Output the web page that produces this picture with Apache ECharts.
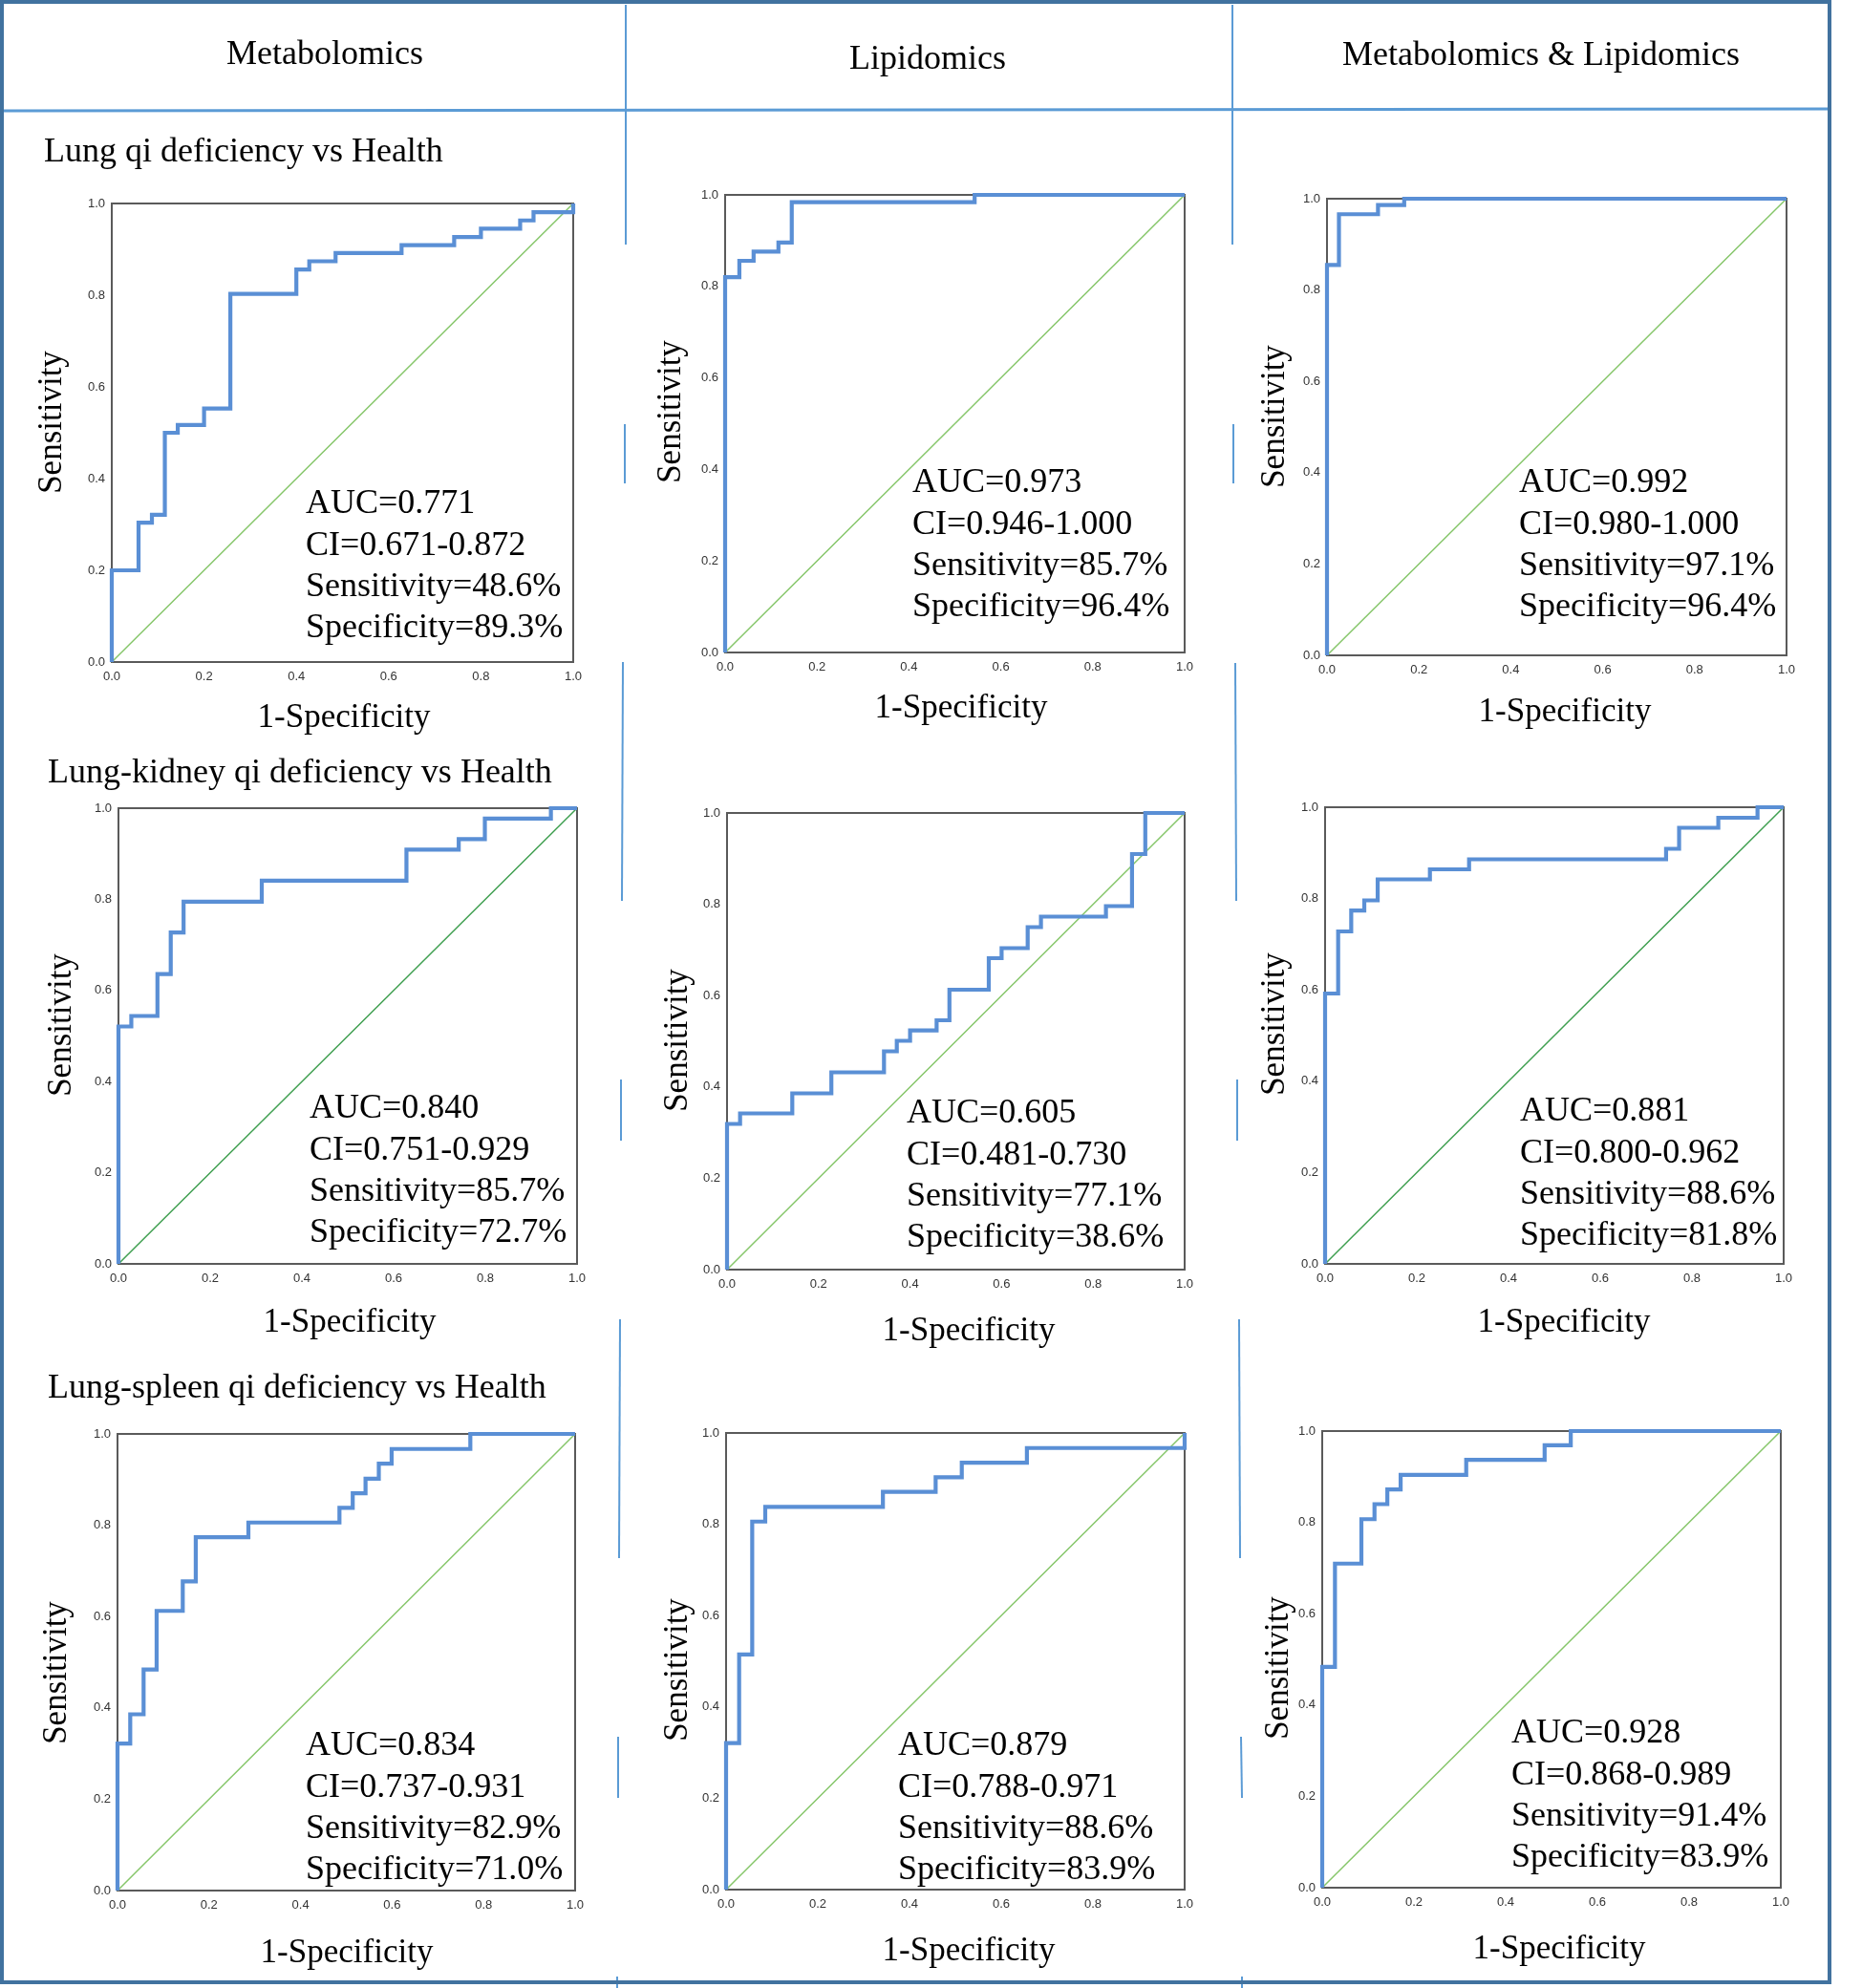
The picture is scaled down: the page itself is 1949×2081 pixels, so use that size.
<!DOCTYPE html>
<html><head><meta charset="utf-8">
<script src="https://cdn.jsdelivr.net/npm/echarts@6/dist/echarts.min.js"></script>
<style>html,body{margin:0;padding:0;background:#fff}#c{width:1949px;height:2081px}</style>
</head><body><div id="c"></div>
<script>
// ---------- data ----------
const columnHeaders = ['Metabolomics', 'Lipidomics', 'Metabolomics & Lipidomics'];
const rowTitles = ['Lung qi deficiency vs Health', 'Lung-kidney qi deficiency vs Health', 'Lung-spleen qi deficiency vs Health'];
const xAxisTitle = '1-Specificity';
const yAxisTitle = 'Sensitivity';
const tickValues = [0, 0.2, 0.4, 0.6, 0.8, 1.0];
const refLine = [0, 1];

// Row 1: Lung qi deficiency vs Health
const p1Fpr = [0, 0, 0.058, 0.087, 0.115, 0.143, 0.2, 0.257, 0.4, 0.428, 0.485, 0.628, 0.742, 0.8, 0.885, 0.914, 1.0];
const p1Tpr = [0, 0.2, 0.304, 0.321, 0.5, 0.517, 0.553, 0.803, 0.856, 0.874, 0.892, 0.909, 0.927, 0.945, 0.963, 0.981, 1.0];
const p2Fpr = [0, 0, 0.031, 0.062, 0.116, 0.145, 0.543, 1.0];
const p2Tpr = [0, 0.82, 0.856, 0.876, 0.896, 0.984, 1.0, 1.0];
const p3Fpr = [0, 0, 0.026, 0.111, 0.168, 1.0];
const p3Tpr = [0, 0.855, 0.966, 0.986, 1.0, 1.0];
// Row 2: Lung-kidney qi deficiency vs Health
const p4Fpr = [0, 0, 0.028, 0.085, 0.114, 0.142, 0.3125, 0.628, 0.742, 0.799, 0.943, 1.0];
const p4Tpr = [0, 0.521, 0.544, 0.636, 0.727, 0.795, 0.841, 0.909, 0.932, 0.977, 1.0, 1.0];
const p5Fpr = [0, 0, 0.0285, 0.1426, 0.228, 0.343, 0.371, 0.400, 0.458, 0.486, 0.572, 0.600, 0.657, 0.686, 0.828, 0.885, 0.914, 1.0];
const p5Tpr = [0, 0.319, 0.342, 0.386, 0.432, 0.478, 0.501, 0.524, 0.546, 0.613, 0.682, 0.704, 0.75, 0.773, 0.796, 0.910, 1.0, 1.0];
const p6Fpr = [0, 0, 0.0285, 0.057, 0.0855, 0.1147, 0.2286, 0.314, 0.7436, 0.772, 0.8575, 0.943, 1.0];
const p6Tpr = [0, 0.592, 0.728, 0.774, 0.796, 0.842, 0.864, 0.886, 0.909, 0.955, 0.977, 1.0, 1.0];
// Row 3: Lung-spleen qi deficiency vs Health
const p7Fpr = [0, 0, 0.0278, 0.057, 0.0855, 0.1426, 0.171, 0.286, 0.485, 0.514, 0.542, 0.571, 0.599, 0.771, 1.0];
const p7Tpr = [0, 0.322, 0.386, 0.484, 0.6125, 0.677, 0.774, 0.806, 0.838, 0.870, 0.902, 0.935, 0.967, 1.0, 1.0];
const p8Fpr = [0, 0, 0.0285, 0.057, 0.0854, 0.342, 0.457, 0.514, 0.656, 1.0];
const p8Tpr = [0, 0.321, 0.515, 0.806, 0.838, 0.871, 0.903, 0.935, 0.967, 1.0];
const p9Fpr = [0, 0, 0.0278, 0.0854, 0.114, 0.142, 0.171, 0.314, 0.485, 0.542, 1.0];
const p9Tpr = [0, 0.4836, 0.7097, 0.807, 0.840, 0.872, 0.904, 0.937, 0.969, 1.0, 1.0];

const aucValues = ['0.771', '0.973', '0.992', '0.840', '0.605', '0.881', '0.834', '0.879', '0.928'];
const ciValues = ['0.671-0.872', '0.946-1.000', '0.980-1.000', '0.751-0.929', '0.481-0.730', '0.800-0.962', '0.737-0.931', '0.788-0.971', '0.868-0.989'];
const sensValues = ['48.6%', '85.7%', '97.1%', '85.7%', '77.1%', '88.6%', '82.9%', '88.6%', '91.4%'];
const specValues = ['89.3%', '96.4%', '96.4%', '72.7%', '38.6%', '81.8%', '71.0%', '83.9%', '83.9%'];

const rocFpr = [p1Fpr, p2Fpr, p3Fpr, p4Fpr, p5Fpr, p6Fpr, p7Fpr, p8Fpr, p9Fpr];
const rocTpr = [p1Tpr, p2Tpr, p3Tpr, p4Tpr, p5Tpr, p6Tpr, p7Tpr, p8Tpr, p9Tpr];

// ---------- layout ----------
const SERIF = '"Liberation Serif","Times New Roman",serif';
const SANS = '"Liberation Sans",Arial,sans-serif';
const LIGHT_GREEN = '#86c66a', DARK_GREEN = '#3f9f50', BLUE = '#5a8fd5';
const boxes = [
  {l:117, t:213, w:483, h:480, sx:55,  sy:442,  xx:360,  xy:752,  tx:320,  ty:528,  g:LIGHT_GREEN},
  {l:759, t:204, w:481, h:479, sx:703, sy:431,  xx:1006, xy:742,  tx:955,  ty:506,  g:LIGHT_GREEN},
  {l:1389,t:208, w:481, h:478, sx:1335,sy:436,  xx:1638, xy:746,  tx:1590, ty:506,  g:LIGHT_GREEN},
  {l:124, t:846, w:480, h:477, sx:65,  sy:1073, xx:366,  xy:1385, tx:324,  ty:1161, g:DARK_GREEN},
  {l:761, t:851, w:479, h:478, sx:710, sy:1089, xx:1014, xy:1394, tx:949,  ty:1166, g:LIGHT_GREEN},
  {l:1387,t:845, w:480, h:478, sx:1335,sy:1072, xx:1637, xy:1385, tx:1591, ty:1164, g:DARK_GREEN},
  {l:123, t:1501,w:479, h:478, sx:60,  sy:1751, xx:363,  xy:2045, tx:320,  ty:1828, g:LIGHT_GREEN},
  {l:760, t:1500,w:480, h:478, sx:710, sy:1748, xx:1014, xy:2043, tx:940,  ty:1828, g:LIGHT_GREEN},
  {l:1384,t:1498,w:480, h:478, sx:1339,sy:1746, xx:1632, xy:2041, tx:1582, ty:1815, g:LIGHT_GREEN}
];

const grid = [], xAxis = [], yAxis = [], series = [], graphic = [];
const fmt = v => (Math.round(v * 10) / 10).toFixed(1);

boxes.forEach((b, i) => {
  grid.push({left: b.l, top: b.t, width: b.w, height: b.h, show: true,
    borderColor: '#5a5a5a', borderWidth: 2, backgroundColor: '#fff', containLabel: false});
  xAxis.push({type: 'value', gridIndex: i, min: tickValues[0], max: tickValues[tickValues.length - 1], interval: 0.2,
    axisLine: {show: false}, axisTick: {show: false}, splitLine: {show: false},
    axisLabel: {formatter: fmt, fontFamily: SANS, fontSize: 13, color: '#333', margin: 9}});
  yAxis.push({type: 'value', gridIndex: i, min: tickValues[0], max: tickValues[tickValues.length - 1], interval: 0.2,
    axisLine: {show: false}, axisTick: {show: false}, splitLine: {show: false},
    axisLabel: {formatter: fmt, fontFamily: SANS, fontSize: 13, color: '#333', margin: 7}});
  series.push({type: 'line', xAxisIndex: i, yAxisIndex: i, symbol: 'none', silent: true, z: 2,
    data: [[refLine[0], refLine[0]], [refLine[1], refLine[1]]],
    lineStyle: {color: b.g, width: 1.5}});
  series.push({type: 'line', xAxisIndex: i, yAxisIndex: i, symbol: 'none', silent: true, z: 3,
    step: 'end', clip: false,
    data: rocFpr[i].map((x, k) => [x, rocTpr[i][k]]),
    lineStyle: {color: BLUE, width: 4.2, join: 'miter'}});

  // axis titles
  graphic.push({type: 'text', x: b.sx, y: b.sy, rotation: Math.PI / 2, z: 10,
    style: {text: yAxisTitle, font: '35px ' + SERIF, fill: '#000', textAlign: 'center', textVerticalAlign: 'middle'}});
  graphic.push({type: 'text', x: b.xx, y: b.xy, z: 10,
    style: {text: xAxisTitle, font: '35px ' + SERIF, fill: '#000', textAlign: 'center', textVerticalAlign: 'middle'}});
  // statistics
  const lines = ['AUC=' + aucValues[i], 'CI=' + ciValues[i], 'Sensitivity=' + sensValues[i], 'Specificity=' + specValues[i]];
  lines.forEach((s, k) => graphic.push({type: 'text', x: b.tx, y: b.ty + k * 43.3, z: 10,
    style: {text: s, font: '36px ' + SERIF, fill: '#000', textAlign: 'left', textVerticalAlign: 'middle'}}));
});

// frame and dividers
graphic.push({type: 'rect', shape: {x: 2, y: 2, width: 1913, height: 2073}, z: 20,
  style: {fill: null, stroke: '#41729f', lineWidth: 4}});
graphic.push({type: 'line', shape: {x1: 2, y1: 116, x2: 1915, y2: 114}, z: 19,
  style: {stroke: '#5b9bd5', lineWidth: 3}});
const divSegs = [
  [655, 5, 655, 256], [654, 444, 654, 506], [652, 693, 651, 943], [650, 1130, 650, 1194],
  [649, 1381, 648, 1631], [647, 1818, 647, 1882], [646, 2069, 646, 2081],
  [1290, 5, 1290, 256], [1291, 444, 1291, 506], [1293, 694, 1294, 943], [1295, 1130, 1295, 1194],
  [1297, 1381, 1298, 1631], [1299, 1818, 1300, 1882], [1300, 2069, 1300, 2081]
];
divSegs.forEach(s => graphic.push({type: 'line', shape: {x1: s[0], y1: s[1], x2: s[2], y2: s[3]}, z: 18,
  style: {stroke: '#5b9bd5', lineWidth: 2}}));

// headers
const headerPos = [[340, 58], [971, 63], [1613, 59]];
columnHeaders.forEach((h, i) => graphic.push({type: 'text', x: headerPos[i][0], y: headerPos[i][1], z: 10,
  style: {text: h, font: '36px ' + SERIF, fill: '#000', textAlign: 'center', textVerticalAlign: 'middle'}}));
const rowPos = [[46, 160], [50, 810], [50, 1454]];
rowTitles.forEach((r, i) => graphic.push({type: 'text', x: rowPos[i][0], y: rowPos[i][1], z: 10,
  style: {text: r, font: '36px ' + SERIF, fill: '#000', textAlign: 'left', textVerticalAlign: 'middle'}}));

const chart = echarts.init(document.getElementById('c'), null, {renderer: 'canvas'});
chart.setOption({backgroundColor: '#fff', animation: false, grid, xAxis, yAxis, series, graphic});
</script>
</body></html>
